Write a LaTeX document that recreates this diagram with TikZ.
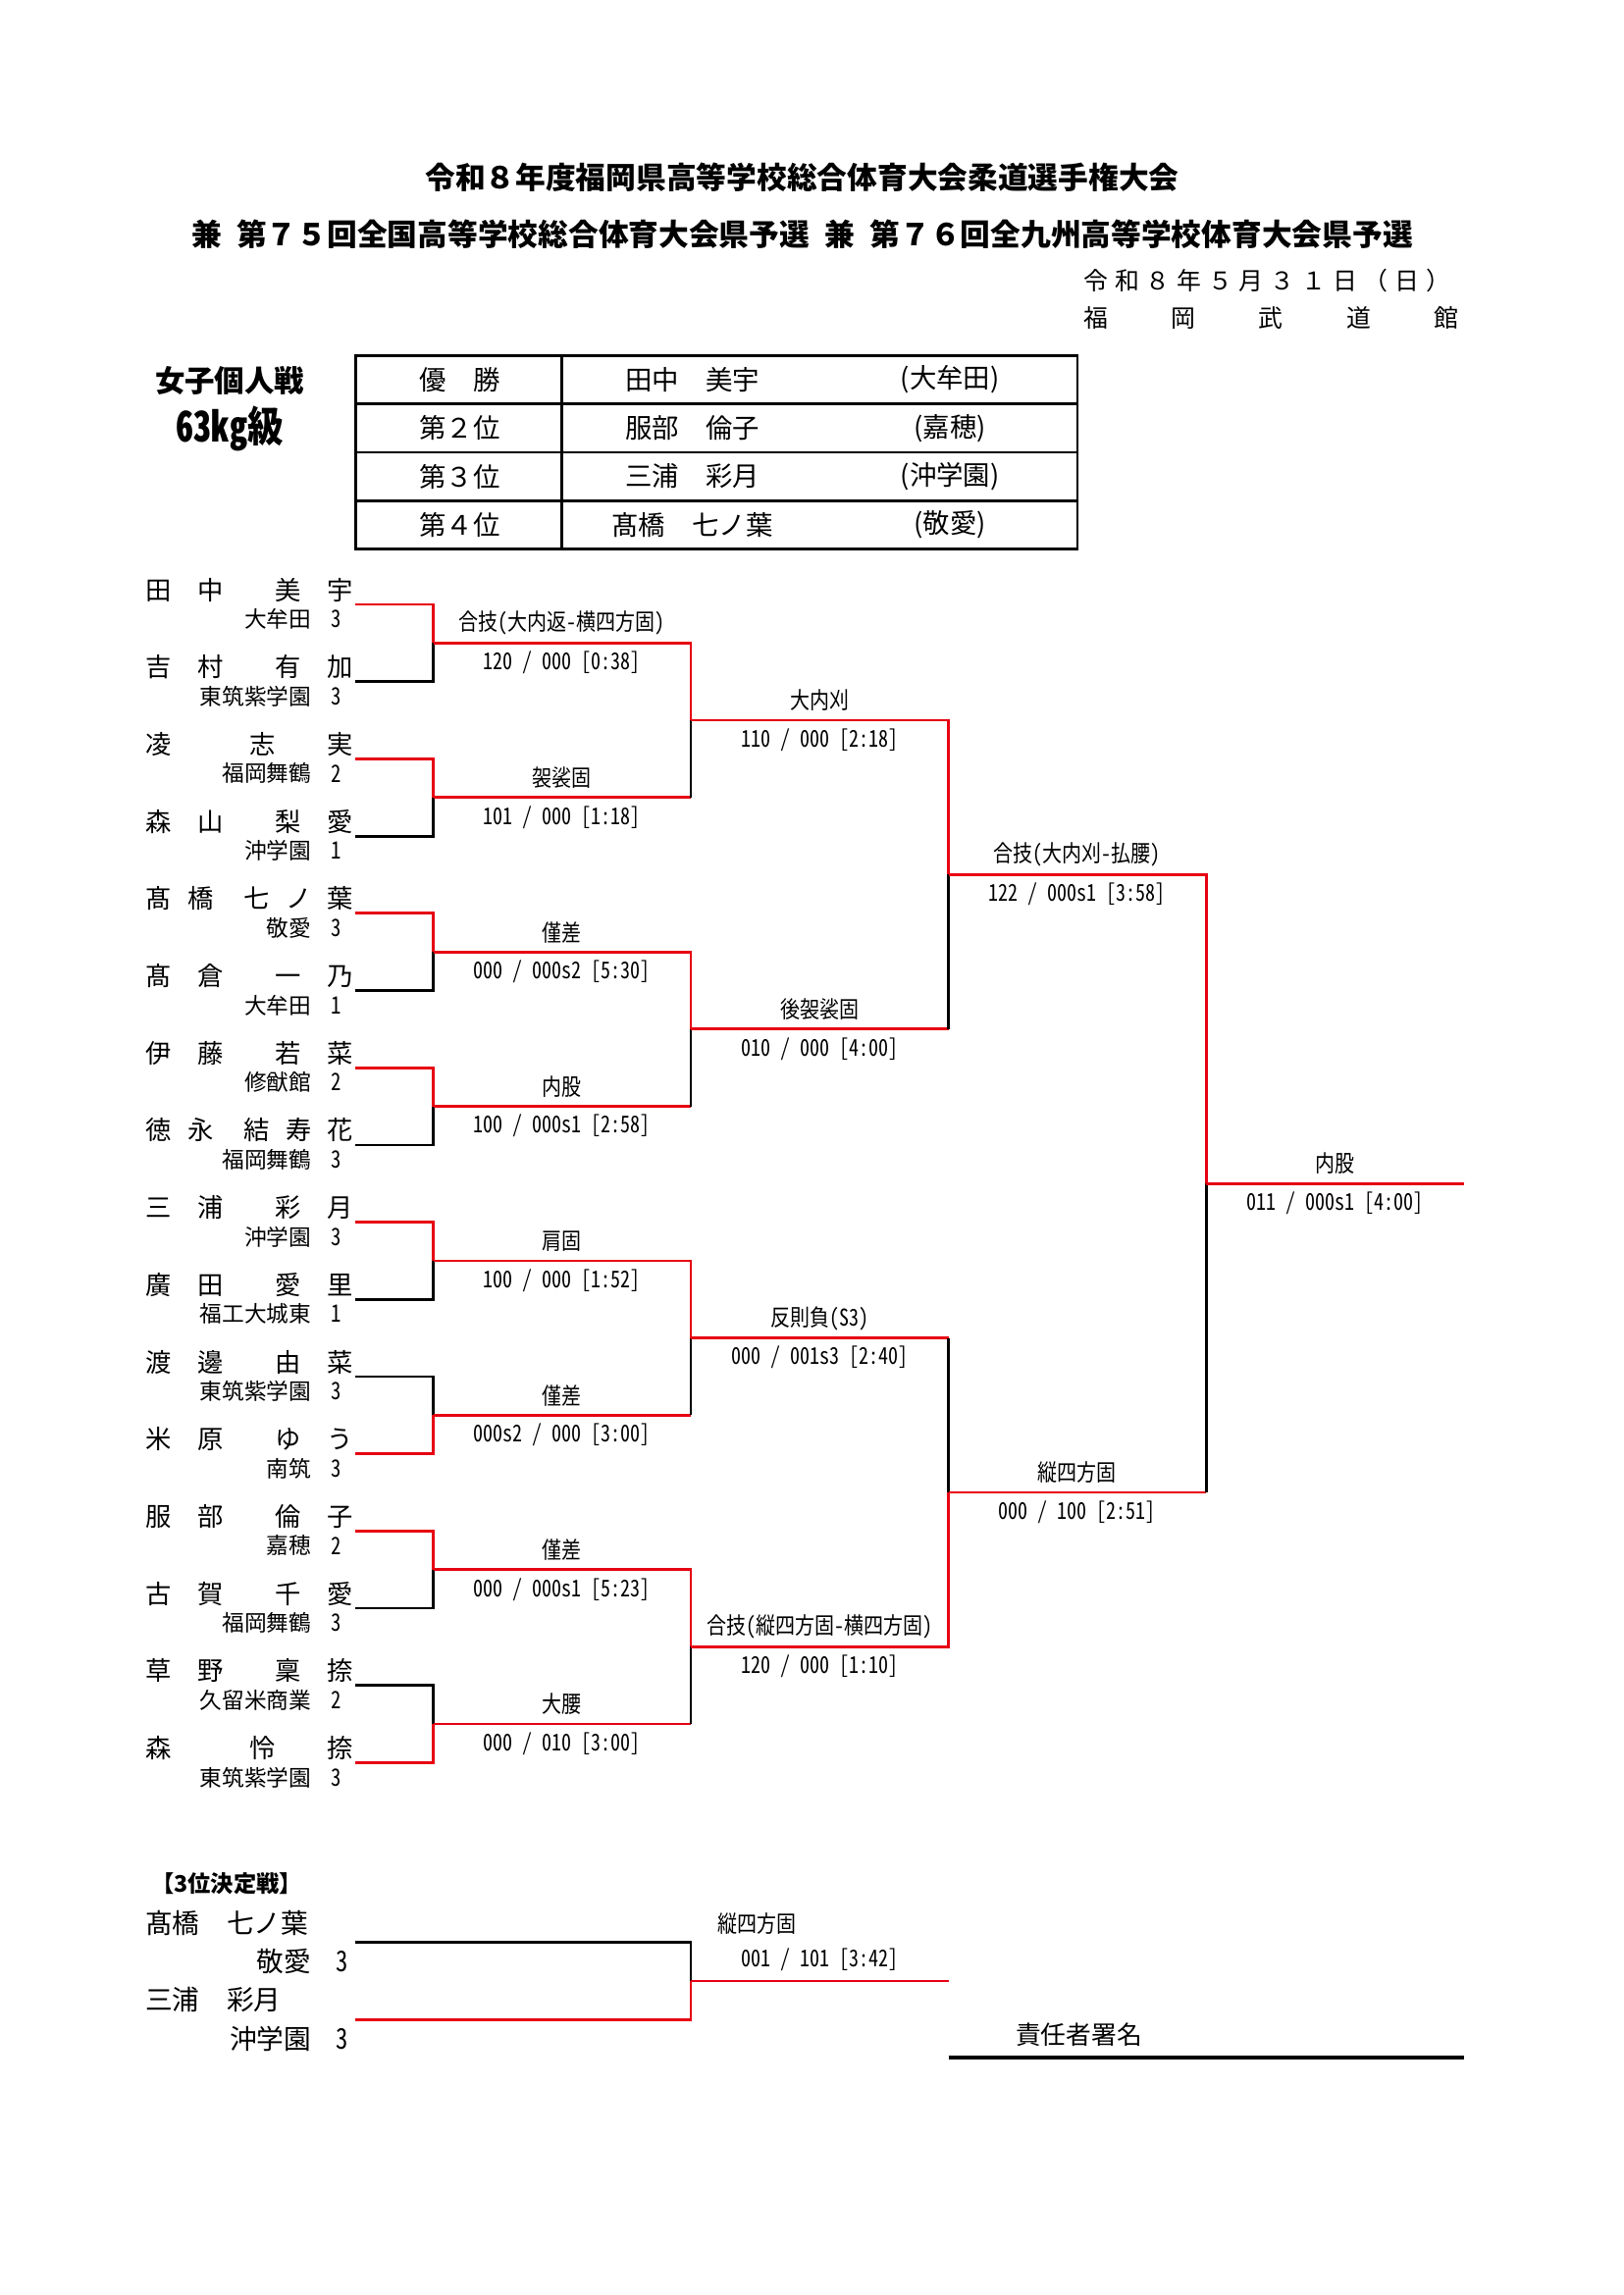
\documentclass[tikz,border=0pt]{standalone}
\usepackage{fontspec}
\usepackage{tikz}
\usetikzlibrary{positioning,calc}
\usepackage{xcolor}
\newfontfamily\jp{Noto Sans CJK JP}
\newfontfamily\jpn{Noto Sans CJK JP}[FakeStretch=0.85, CharacterWidth=Half]
\definecolor{wred}{RGB}{230,0,18}
\newcommand{\pname}[1]{\makebox[8em][s]{#1}}

\begin{document}
\begin{tikzpicture}[
    x=0.18936mm, y=-0.18936mm,
    win/.style={draw=wred, line width=1pt},
    lose/.style={draw=black, line width=1pt},
    title/.style={inner sep=0pt, font=\jp\bfseries\fontsize{11.1}{12}\selectfont},
    info/.style={inner sep=0pt, anchor=west, font=\jp\fontsize{9}{10}\selectfont},
    cell/.style={inner sep=0pt, font=\jp\fontsize{9.9}{11}\selectfont},
    player/.style={inner sep=0pt, anchor=west, font=\jp\fontsize{9.5}{10}\selectfont},
    school/.style={inner sep=0pt, anchor=east, font=\jp\fontsize{8.2}{9}\selectfont},
    grade/.style={inner sep=0pt, font=\jpn\fontsize{8.8}{9}\selectfont},
    tech/.style={inner sep=0pt, font=\jpn\fontsize{8.5}{9}\selectfont},
    score/.style={inner sep=0pt, font=\jpn\fontsize{8.5}{9}\selectfont}
]
\useasboundingbox (0,0) rectangle (1109,1568);

% Heading
\node[title] (head1) at (548,121) {令和８年度福岡県高等学校総合体育大会柔道選手権大会};
\node[title] (head2) at (548,160) {兼\hspace{0.5em}第７５回全国高等学校総合体育大会県予選\hspace{0.5em}兼\hspace{0.5em}第７６回全九州高等学校体育大会県予選};
\node[info] (date) at (740,192) {\makebox[135pt][s]{令\hfill 和\hfill ８\hfill 年\hfill ５\hfill 月\hfill ３\hfill １\hfill 日\hfill （\hfill 日\hfill ）}};
\node[info] (venue) at (740,217) {\makebox[138pt][s]{福\hfill 岡\hfill 武\hfill 道\hfill 館}};

% Class
\node[inner sep=0pt, font=\jp\bfseries\fontsize{11}{12}\selectfont] (event) at (157,260) {女子個人戦};
\node[inner sep=0pt, font=\jpn\bfseries\fontsize{15.5}{16}\selectfont] (weight) at (157,293) {63kg級};

% Result table
\draw[line width=1pt] (243,243) rectangle (736,375);
\foreach \yy in {276,309,342}
  \draw[line width=1pt] (243,\yy) -- (736,\yy);
\draw[line width=1pt] (384,243) -- (384,375);
\foreach \r/\pl/\nm/\sch in {1/{優　勝}/田中　美宇/(大牟田),
                            2/第２位/服部　倫子/(嘉穂),
                            3/第３位/三浦　彩月/(沖学園),
                            4/第４位/髙橋　七ノ葉/(敬愛)} {
  \node[cell] (rank\r) at (314,{226.5+\r*33}) {\pl};
  \node[cell] (win\r) at (473,{226.5+\r*33}) {\nm};
  \node[cell] (team\r) at (649,{226.5+\r*33}) {\sch};
}

% Players
\foreach \i/\nm/\sch/\gr in {
  1/{田\hfill 中\hfill\hfill 美\hfill 宇}/大牟田/3,
  2/{吉\hfill 村\hfill\hfill 有\hfill 加}/東筑紫学園/3,
  3/{凌\hfill\hfill\hfill 志\hfill\hfill 実}/福岡舞鶴/2,
  4/{森\hfill 山\hfill\hfill 梨\hfill 愛}/沖学園/1,
  5/{髙\hfill 橋\hfill\hfill 七\hfill ノ\hfill 葉}/敬愛/3,
  6/{髙\hfill 倉\hfill\hfill 一\hfill 乃}/大牟田/1,
  7/{伊\hfill 藤\hfill\hfill 若\hfill 菜}/修猷館/2,
  8/{徳\hfill 永\hfill\hfill 結\hfill 寿\hfill 花}/福岡舞鶴/3,
  9/{三\hfill 浦\hfill\hfill 彩\hfill 月}/沖学園/3,
  10/{廣\hfill 田\hfill\hfill 愛\hfill 里}/福工大城東/1,
  11/{渡\hfill 邊\hfill\hfill 由\hfill 菜}/東筑紫学園/3,
  12/{米\hfill 原\hfill\hfill ゆ\hfill う}/南筑/3,
  13/{服\hfill 部\hfill\hfill 倫\hfill 子}/嘉穂/2,
  14/{古\hfill 賀\hfill\hfill 千\hfill 愛}/福岡舞鶴/3,
  15/{草\hfill 野\hfill\hfill 稟\hfill 捺}/久留米商業/2,
  16/{森\hfill\hfill\hfill 怜\hfill\hfill 捺}/東筑紫学園/3} {
  \node[player] (n\i) at (99.5,{403+(\i-1)*52.75}) {\pname{\nm}};
  \node[school] (c\i) at (213,{423+(\i-1)*52.75}) {\sch};
  \node[grade] (g\i) at (230,{423+(\i-1)*52.75}) {\gr};
  \coordinate (s\i) at (243,{413+(\i-1)*52.75});
}

% Junctions
\foreach \i in {1,...,8}
  \coordinate (m\i) at (296,{439.4+(\i-1)*105.5});
\foreach \i in {1,...,4}
  \coordinate (q\i) at (472,{492.1+(\i-1)*211});
\coordinate (sf1) at (648,597.6);
\coordinate (sf2) at (648,1019.6);
\coordinate (fin) at (824,808.6);
\coordinate (fend) at (1000,808.6);

% First round
\foreach \w/\l/\m in {1/2/1, 3/4/2, 5/6/3, 7/8/4, 9/10/5, 12/11/6, 13/14/7, 16/15/8} {
  \draw[win] (s\w) -| (m\m);
  \draw[lose] (s\l) -| (m\m);
}

% Later rounds
\foreach \w/\l/\j in {m1/m2/q1, m3/m4/q2, m5/m6/q3, m7/m8/q4,
                      q1/q2/sf1, q4/q3/sf2, sf1/sf2/fin} {
  \draw[win] (\w) -| (\j);
  \draw[win] (\l) -- (\l -| \j);
  \draw[lose] (\l -| \j) -- (\j);
}
\draw[win] (fin) -- (fend);

% Match results
\node[tech] (t1) at (384,425.9) {合技(大内返-横四方固)};
\node[score] (r1) at (384,452.9) {120 / 000 [0:38]};
\node[tech] (t2) at (384,531.4) {袈裟固};
\node[score] (r2) at (384,558.4) {101 / 000 [1:18]};
\node[tech] (t3) at (384,636.9) {僅差};
\node[score] (r3) at (384,663.9) {000 / 000s2 [5:30]};
\node[tech] (t4) at (384,742.4) {内股};
\node[score] (r4) at (384,769.4) {100 / 000s1 [2:58]};
\node[tech] (t5) at (384,847.9) {肩固};
\node[score] (r5) at (384,874.9) {100 / 000 [1:52]};
\node[tech] (t6) at (384,953.4) {僅差};
\node[score] (r6) at (384,980.4) {000s2 / 000 [3:00]};
\node[tech] (t7) at (384,1058.9) {僅差};
\node[score] (r7) at (384,1085.9) {000 / 000s1 [5:23]};
\node[tech] (t8) at (384,1164.4) {大腰};
\node[score] (r8) at (384,1191.4) {000 / 010 [3:00]};

\node[tech] (t9) at (560,478.6) {大内刈};
\node[score] (r9) at (560,505.6) {110 / 000 [2:18]};
\node[tech] (t10) at (560,689.6) {後袈裟固};
\node[score] (r10) at (560,716.6) {010 / 000 [4:00]};
\node[tech] (t11) at (560,900.6) {反則負(S3)};
\node[score] (r11) at (560,927.6) {000 / 001s3 [2:40]};
\node[tech] (t12) at (560,1111.6) {合技(縦四方固-横四方固)};
\node[score] (r12) at (560,1138.6) {120 / 000 [1:10]};

\node[tech] (t13) at (736,584.1) {合技(大内刈-払腰)};
\node[score] (r13) at (736,611.1) {122 / 000s1 [3:58]};
\node[tech] (t14) at (736,1006.1) {縦四方固};
\node[score] (r14) at (736,1033.1) {000 / 100 [2:51]};

\node[tech] (t15) at (912,795.1) {内股};
\node[score] (r15) at (912,822.1) {011 / 000s1 [4:00]};

% Third place
\node[inner sep=0pt, anchor=west, font=\jp\bfseries\fontsize{8.4}{9}\selectfont] (third) at (103,1287) {【3位決定戦】};
\node[player, font=\jp\fontsize{10}{11}\selectfont] (n17) at (99,1314) {髙橋　七ノ葉};
\node[school, font=\jp\fontsize{10}{11}\selectfont] (c17) at (213,1340) {敬愛};
\node[grade, font=\jpn\fontsize{10.5}{11}\selectfont] (g17) at (234,1340) {3};
\node[player, font=\jp\fontsize{10}{11}\selectfont] (n18) at (99,1366) {三浦　彩月};
\node[school, font=\jp\fontsize{10}{11}\selectfont] (c18) at (213,1393) {沖学園};
\node[grade, font=\jpn\fontsize{10.5}{11}\selectfont] (g18) at (234,1393) {3};
\coordinate (s17) at (243,1327);
\coordinate (s18) at (243,1380);
\coordinate (b3) at (472,1353.5);
\coordinate (e3) at (648,1353.5);
\draw[lose] (s17) -| (b3);
\draw[win] (s18) -| (b3);
\draw[win] (b3) -- (e3);
\node[tech, anchor=west] (t16) at (490,1314) {縦四方固};
\node[score] (r16) at (560,1339) {001 / 101 [3:42]};

% Signature
\node[inner sep=0pt, font=\jp\fontsize{9.3}{10}\selectfont] (sign) at (737,1390) {責任者署名};
\coordinate (sa) at (648,1406);
\coordinate (sb) at (1000,1406);
\draw[line width=1.4pt] (sa) -- (sb);

\end{tikzpicture}
\end{document}
